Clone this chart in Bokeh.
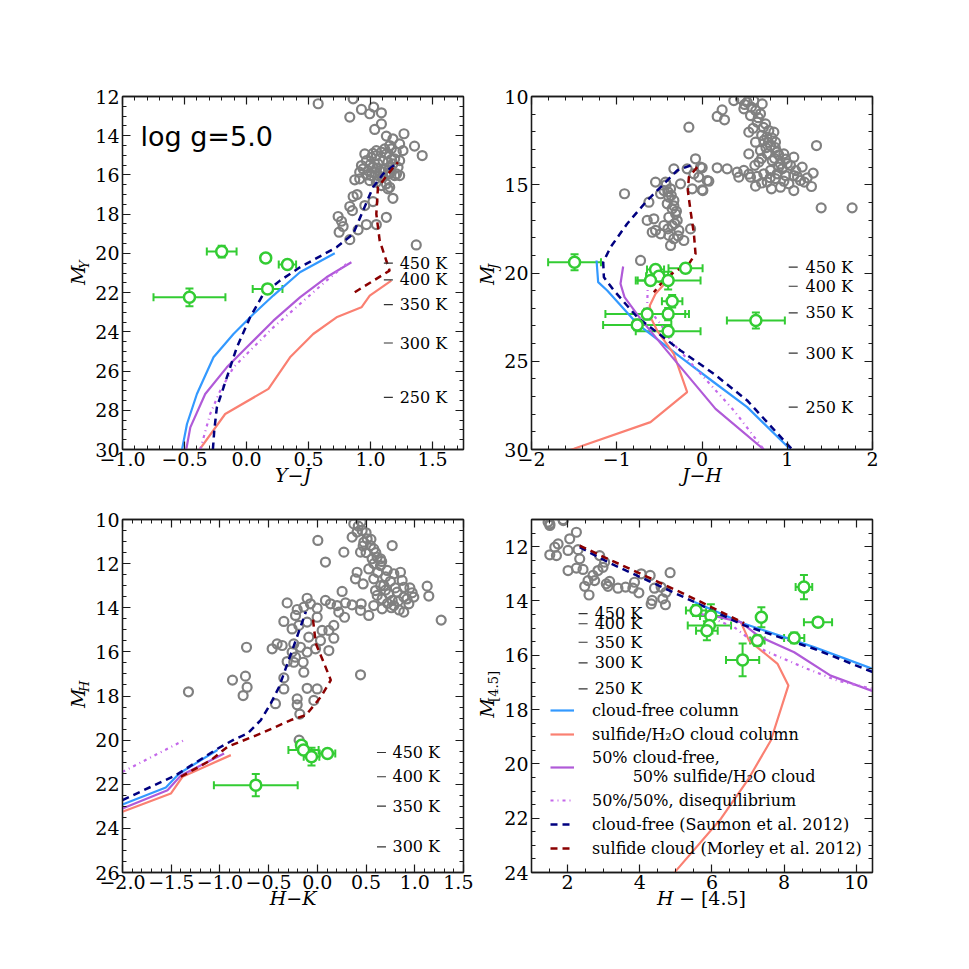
import numpy as np
from bokeh.plotting import figure
from bokeh.models import (Range1d, LinearAxis, SingleIntervalTicker, CustomJSTickFormatter,
                          Label, Title, Legend, LegendItem, Whisker, TeeHead, ColumnDataSource)
from bokeh.layouts import column, row
from bokeh.embed import file_html
from bokeh.resources import INLINE
from bokeh.core.properties import value

# ---------------- data: field brown dwarfs (grey) ----------------
field_yj = [(0.578,12.37),(0.860,12.12),(0.833,13.05),(0.927,12.66),(0.994,12.88),(1.026,12.54),(1.088,12.83),
            (1.088,13.40),(1.034,13.68),(1.128,14.02),(1.181,14.16),(1.270,13.90),(1.355,14.53),(1.417,15.01),
            (1.235,14.42),(1.262,14.76),(1.155,14.50),(1.114,14.67),(1.047,14.76),(0.954,14.93),(0.927,15.52),
            (0.873,16.25),(0.913,16.20),(1.007,16.03),(1.047,16.37),(1.141,16.71),(1.181,17.19),(1.155,16.63),
            (0.860,17.10),(0.892,17.00),(1.020,17.36),(0.954,17.56),(0.833,17.61),(0.854,17.82),(0.739,18.12),
            (0.766,18.36),(0.779,18.63),(0.747,18.92),(0.833,19.30),(0.900,18.80),(0.967,18.53),(1.047,18.53),
            (1.128,18.16),(1.369,19.57),(0.967,15.27),(1.007,15.10),(1.047,15.01),(1.088,14.84),(1.128,14.93),
            (1.168,14.67),(1.208,14.84),(1.235,15.27),(1.222,15.61),(1.181,15.44),(1.141,15.35),(1.101,15.27),
            (1.061,15.44),(1.020,15.61),(0.980,15.78),(1.074,15.78),(1.114,15.69),(1.155,15.86),(1.195,16.03),
            (1.235,16.03),(1.101,16.12),(1.061,16.03),(0.994,16.29),(0.940,15.69),(0.913,15.86),(1.128,16.46),
            (1.088,16.54),(1.034,15.86),(1.155,15.61),(1.195,15.18),(1.000,15.45),(1.050,15.65),(1.150,15.95),
            (1.100,15.85),(1.170,15.20),(1.020,14.90),(1.210,15.95),(0.970,16.00)]

field_jh = [(-0.076,13.53),(-0.017,14.00),(-0.330,14.10),(-0.174,14.10),(-0.095,14.38),(-0.545,14.85),(-0.428,14.85),
            (-0.369,15.23),(-0.252,14.95),(-0.115,15.23),(0.010,15.33),(-0.037,14.57),(-0.486,15.51),(-0.447,15.33),
            (-0.389,15.70),(-0.330,15.89),(-0.408,16.08),(-0.350,16.36),(-0.310,16.65),(-0.389,16.84),(-0.291,17.02),
            (-0.350,17.31),(-0.447,17.31),(-0.545,17.59),(-0.584,17.69),(-0.486,17.78),(-0.389,17.87),(-0.271,17.59),
            (-0.134,17.50),(-0.330,18.06),(-0.213,18.16),(-0.369,18.44),(-0.643,17.02),(-0.565,16.93),(-0.623,15.99),
            (-0.909,15.51),(-0.721,19.29),(-0.154,11.74),(0.061,14.76),
            (0.178,11.13),(0.236,10.76),(0.264,11.32),(0.373,10.23),(0.452,10.13),(0.530,10.32),(0.608,10.23),
            (0.706,10.42),(0.491,10.70),(0.569,11.08),(0.686,10.98),(0.647,11.45),(0.745,11.55),(0.549,12.02),
            (0.784,11.93),(0.843,12.02),(0.628,12.59),(0.725,12.49),(0.804,12.78),(0.862,12.59),(0.686,13.06),
            (0.764,13.25),(0.882,13.15),(0.960,13.25),(1.077,13.44),(0.549,13.25),(0.667,13.72),(0.823,13.63),
            (0.921,13.82),(1.038,13.91),(1.175,14.00),(1.304,14.34),(1.234,14.61),(1.155,14.76),(1.077,14.48),
            (0.980,14.48),(0.882,14.38),(0.804,14.19),(0.725,14.38),(0.647,14.53),(0.569,14.57),(0.491,14.19),
            (0.412,14.29),(0.432,14.57),(0.178,14.04),(0.295,14.10),(0.080,14.80),(0.002,15.29),(0.002,14.04),
            (0.628,15.08),(0.815,15.23),(0.921,15.14),(1.077,15.33),(1.284,15.10),(1.019,14.95),(0.764,14.85),
            (1.343,12.78),(1.398,16.31),(1.761,16.31),(0.60,11.80),(0.70,12.20),(0.75,12.90),(0.85,13.50),
            (0.90,14.00),(0.70,13.50),(0.80,14.60),(0.62,13.90),(0.50,10.45),(0.58,10.60),(0.63,10.80),
            (0.66,11.20),(0.72,11.75),(0.76,12.30),(0.82,12.35),(0.78,12.60),(0.86,12.90),(0.90,13.30),
            (0.98,13.55),(1.00,13.80),(0.94,14.10),(1.10,14.20),(1.12,14.55),(0.86,14.65),(0.96,14.80),
            (1.20,14.85),(0.70,14.90),(0.55,14.40),(-0.42,15.00),(-0.40,15.40),(-0.36,15.60),(-0.33,16.20),
            (-0.30,16.50),(-0.32,17.20),(-0.40,17.50),(-0.28,17.90)]

field_hk = [(0.005,10.95),(0.272,11.48),(0.083,11.93),(0.443,11.48),(0.768,11.18),(0.408,12.39),(0.391,12.69),
            (0.470,12.92),(0.254,13.26),(-0.105,13.57),(-0.310,13.78),(-0.207,14.08),(-0.139,13.97),(-0.071,13.82),
            (-0.002,14.02),(0.083,13.67),(0.135,13.82),(0.203,13.90),(0.289,13.78),(0.357,13.87),(0.450,13.82),
            (0.443,14.12),(0.528,14.35),(0.279,14.43),(0.220,14.20),(-0.344,14.62),(-0.224,14.35),(-0.190,14.80),
            (-0.259,14.96),(-0.105,14.65),(-0.002,14.43),(0.049,15.03),(0.118,15.03),(0.169,14.80),(0.169,15.38),
            (0.118,15.94),(0.032,15.49),(-0.088,15.33),(-0.173,15.79),(-0.105,16.01),(-0.019,15.86),(-0.242,15.64),
            (-0.259,16.01),(-0.224,16.24),(-0.310,16.44),(-0.242,16.47),(-0.146,16.47),(-0.139,16.92),(-0.464,15.86),
            (-0.413,15.64),(-0.361,15.71),(-0.727,15.79),(-0.738,17.10),(-0.721,17.60),(-0.762,17.98),(-0.344,17.18),
            (-0.344,17.68),(-0.430,18.35),(-0.207,18.13),(-0.207,18.40),(-0.180,18.82),(-0.105,17.65),(-0.002,17.68),
            (-0.036,18.20),(0.443,17.04),(0.579,13.90),(0.665,14.05),(0.528,12.24),(0.648,12.09),(0.717,12.31),
            (0.785,12.46),(0.853,12.39),(0.870,12.76),(0.579,12.69),(0.597,13.22),(0.682,12.99),(0.734,13.37),
            (0.819,13.29),(0.887,13.07),(0.887,13.52),(0.973,13.32),(0.939,13.82),(0.887,14.20),(0.768,13.67),
            (0.665,13.60),(0.614,13.44),(0.785,13.90),(0.990,13.52),(1.127,13.02),(1.144,13.47),(1.271,14.56),
            (0.408,10.57),(0.374,10.20),(0.460,10.50),(0.511,10.88),(0.545,11.18),(0.579,11.33),(0.614,11.71),
            (0.477,11.03),(0.562,11.78),(0.648,11.78),(0.357,10.80),(-1.323,17.81),(-0.871,17.28),(-0.187,20.00),
            (0.42,10.30),(0.45,10.10),(0.50,10.60),(0.55,10.90),(0.60,11.50),(0.66,11.90),(0.70,12.60),
            (0.75,12.80),(0.80,13.10),(0.70,13.20),(0.65,13.00),(0.62,12.40),(0.58,12.00),(0.83,13.70),
            (0.92,13.60),(0.95,13.10),(0.76,14.00),(0.72,13.80),(0.84,14.10),(0.50,11.50),(0.47,11.20)]

field_h45 = [(1.507,11.16),(1.875,11.00),(2.244,11.47),(2.059,11.71),(1.737,11.90),(1.645,12.02),(2.013,12.14),
             (1.507,12.30),(1.691,12.33),(2.290,12.11),(2.336,12.45),(2.244,12.79),(2.013,12.88),(2.428,12.84),
             (2.888,12.33),(3.027,12.57),(2.980,12.76),(2.842,12.88),(2.704,13.06),(2.750,13.25),(2.566,13.25),
             (2.474,13.46),(2.594,13.78),(3.073,13.37),(3.119,13.46),(3.165,13.28),(3.395,13.53),(3.607,13.49),
             (3.855,13.31),(3.809,13.53),(3.975,13.70),(4.040,13.00),(4.288,13.06),(4.841,12.96),(4.408,13.53),
             (4.592,13.49),(4.730,13.68),(4.344,13.98),(4.316,14.11),(4.638,13.92),(4.712,14.14),(1.46,11.10),
             (1.51,11.22),(1.88,11.04)]

# ---------------- data: Y dwarfs (green: value x, value y, xerr, yerr) ----------------
ydw_yj = [(-0.20,19.91,0.12,0.30),(0.155,20.23,0.0,0.0),(0.33,20.57,0.07,0.20),(0.17,21.81,0.12,0.20),(-0.46,22.24,0.29,0.45)]
ydw_jh = [(-1.495,19.39,0.31,0.45),(-0.193,19.73,0.20,0.25),(-0.545,19.80,0.10,0.20),(-0.506,20.18,0.15,0.20),
          (-0.604,20.43,0.15,0.25),(-0.397,20.43,0.38,0.50),(-0.350,21.60,0.12,0.35),(-0.643,22.33,0.49,0.30),
          (-0.397,22.33,0.20,0.35),(-0.760,22.94,0.40,0.30),(-0.397,23.30,0.38,0.30),(0.632,22.69,0.34,0.45)]
ydw_hk = [(-0.163,20.23,0.05,0.15),(-0.142,20.45,0.155,0.15),(-0.060,20.75,0.08,0.40),(0.104,20.61,0.08,0.15),
          (-0.632,22.04,0.43,0.50)]
ydw_h45 = [(5.56,14.35,0.28,0.20),(5.97,14.55,0.30,0.43),(5.93,14.90,0.60,0.30),(5.86,15.10,0.30,0.35),
           (6.85,16.17,0.46,0.60),(7.26,15.46,0.20,0.20),(7.37,14.60,0.10,0.37),(8.28,15.36,0.28,0.20),
           (8.94,14.78,0.39,0.15),(8.55,13.49,0.23,0.45)]

# ---------------- data: model tracks ----------------
cf_yj_x = [-0.520,-0.480,-0.400,-0.266,-0.105,0.056,0.216,0.431,0.712]
cf_yj_y = [30.0,28.70,27.17,25.30,24.11,23.09,22.15,20.96,19.99]
cl_yj_x = [-0.378,-0.172,0.177,0.351,0.538,0.726,0.927,0.994,1.168]
cl_yj_y = [30.0,28.19,26.91,25.30,24.11,23.26,22.75,22.15,21.39]
mix_yj_x = [-0.486,-0.453,-0.333,-0.159,0.002,0.217,0.431,0.645,0.846]
mix_yj_y = [30.0,28.87,27.17,25.81,24.79,23.43,22.24,21.22,20.45]
dis_yj_x = [-0.373,-0.293,-0.212,-0.105,0.029,0.217,0.431,0.645,0.806]
dis_yj_y = [30.0,28.19,27.0,25.81,24.96,23.77,22.58,21.39,20.54]
sau_yj_x = [-0.271,-0.260,-0.239,-0.185,-0.078,0.029,0.136,0.270,0.431,0.726,0.860,0.940,1.020,1.101,1.221]
sau_yj_y = [30.0,29.04,27.85,26.83,24.79,23.26,22.07,21.39,20.71,19.69,19.01,17.82,16.63,15.95,15.35]
mor_yj_x = [0.873,1.154,1.074,1.047,1.060,1.141,1.221]
mor_yj_y = [21.98,20.88,19.35,17.99,16.63,15.95,15.35]

cf_jh_x = [-1.237,-1.218,-1.112,-0.760,-0.252,0.139,0.530,1.038]
cf_jh_y = [19.29,20.52,20.99,22.88,24.77,26.19,27.60,30.0]
cl_jh_x = [-0.370,-0.545,-0.612,-0.604,-0.526,-0.331,-0.174,-0.604,-1.503,-1.60]
cl_jh_y = [20.24,21.18,21.84,22.50,23.26,24.58,26.75,28.45,29.96,30.12]
mix_jh_x = [-0.925,-0.956,-0.909,-0.721,-0.448,0.159,0.726]
mix_jh_y = [19.63,20.61,21.37,22.60,24.20,27.70,30.0]
dis_jh_x = [-0.573,-0.636,-0.643,-0.487,-0.370,0.374,0.726]
dis_jh_y = [19.95,20.61,21.94,22.88,23.82,27.79,30.0]
sau_jh_x = [-0.135,-0.291,-0.447,-0.643,-0.878,-1.073,-1.159,-1.151,-1.034,-0.760,-0.252,0.139,0.530,1.058]
sau_jh_y = [13.91,14.19,14.95,15.89,17.21,18.54,19.39,20.24,20.99,22.50,24.39,25.71,27.22,30.0]
mor_jh_x = [-0.056,-0.154,-0.166,-0.135,-0.095,-0.076,-0.154,-0.330,-0.467,-0.565]
mor_jh_y = [14.0,14.57,15.33,16.46,17.78,18.91,19.48,19.95,20.52,21.09]

cf_hk_x = [-2.0,-1.555,-1.418,-1.025]
cf_hk_y = [22.92,22.15,21.51,20.45]
cl_hk_x = [-2.0,-1.504,-1.384,-0.888]
cl_hk_y = [23.25,22.42,21.66,20.68]
mix_hk_x = [-2.0,-1.538,-1.401,-0.957]
mix_hk_y = [23.10,22.27,21.60,20.61]
dis_hk_x = [-2.0,-1.367]
dis_hk_y = [21.44,20.0]
sau_hk_x = [-2.0,-1.453,-1.025,-0.854,-0.717,-0.580,-0.478,-0.392,-0.307,-0.221,-0.118]
sau_hk_y = [22.72,21.59,20.39,19.97,19.70,19.09,18.34,17.58,16.53,15.47,14.18]
mor_hk_x = [-1.401,-1.093,-0.922,-0.580,-0.272,-0.118,0.036,0.138,0.070,-0.016,-0.050]
mor_hk_y = [21.66,20.91,20.30,19.70,19.09,18.87,18.04,17.28,16.53,15.62,14.34]

cf_h45_x = [5.513,6.895,8.829,10.459]
cf_h45_y = [14.04,14.84,15.70,16.50]
cl_h45_x = [6.80,7.03,7.36,7.82,8.12,7.632,6.987,6.250,5.007,4.95]
cl_h45_y = [14.78,15.46,15.82,16.32,17.11,19.14,20.61,22.02,23.93,24.05]
mix_h45_x = [5.79,6.80,7.30,8.28,9.29,10.459]
mix_h45_y = [14.47,14.78,15.30,15.89,16.75,17.32]
dis_h45_x = [5.70,6.62,7.45,8.64,9.47,10.459]
dis_h45_y = [14.47,14.97,15.82,16.50,16.93,17.24]
sau_h45_x = [2.335,3.118,4.224,5.513,6.895,8.829,10.459]
sau_h45_y = [12.02,12.57,13.25,14.04,14.90,15.76,16.62]
mor_h45_x = [2.335,3.118,4.224,5.513,6.895]
mor_h45_y = [11.96,12.45,13.12,13.92,14.82]

# temperature marks (Teff labels)
teff_labels5 = ["450 K", "400 K", "350 K", "300 K", "250 K"]
teff_labels4 = ["450 K", "400 K", "350 K", "300 K"]
teff_yj = [20.50, 21.35, 22.61, 24.57, 27.34]
teff_jh = [19.67, 20.75, 22.26, 24.54, 27.60]
teff_hk = [20.56, 21.66, 22.99, 24.84]
teff_h45 = [14.47, 14.84, 15.52, 16.28, 17.24]

legend_labels = ["cloud-free column", "sulfide/H\u2082O cloud column",
                 "50% cloud-free,\n" + "\u00a0" * 8 + "50% sulfide/H\u2082O cloud",
                 "50%/50%, disequilibrium", "cloud-free (Saumon et al. 2012)",
                 "sulfide cloud (Morley et al. 2012)"]

# ---------------- styling ----------------
SERIF = "DejaVu Serif"
SANS = "DejaVu Sans"
C_CF, C_CL, C_MIX, C_DIS = "#3399ff", "#fa8072", "#b05ad8", "#c468ea"
C_SAU, C_MOR = "#000080", "#8b0000"
GRAY, GREEN = "#808080", "#33cc33"
AX = "#1a1a1a"
FW, FH = 341, 353
EMPTY_FMT = "return '';"


def style_axis(ax, ticker, fmt, labels, standoff):
    ax.ticker = ticker
    ax.formatter = fmt
    ax.major_tick_in = 8
    ax.major_tick_out = 0
    ax.minor_tick_in = 4
    ax.minor_tick_out = 0
    ax.axis_line_color = AX
    ax.axis_line_width = 1.3
    ax.major_tick_line_color = AX
    ax.major_tick_line_width = 1.2
    ax.minor_tick_line_color = AX
    ax.minor_tick_line_width = 1.0
    ax.major_label_text_font = SERIF
    ax.major_label_text_color = "black"
    if labels:
        ax.major_label_text_font_size = "19px"
        ax.major_label_standoff = standoff
    else:
        ax.major_label_text_font_size = "1px"
        ax.major_label_standoff = 0
    ax.axis_label = None


def make_panel(xr, yr, xint, xmin, yint, ymin, xdec, ydec, w, h, bl, bt):
    p = figure(width=w, height=h, x_range=Range1d(*xr), y_range=Range1d(*yr),
               output_backend="svg", toolbar_location=None,
               min_border_left=bl, min_border_right=10, min_border_top=bt, min_border_bottom=60)
    p.grid.visible = False
    p.outline_line_color = AX
    p.outline_line_width = 1.3
    fx = CustomJSTickFormatter(code=f"return tick.toFixed({xdec}).replace('-', '\\u2212');")
    fy = CustomJSTickFormatter(code=f"return tick.toFixed({ydec}).replace('-', '\\u2212');")
    style_axis(p.xaxis[0], SingleIntervalTicker(interval=xint, num_minor_ticks=xmin), fx, True, 2)
    style_axis(p.yaxis[0], SingleIntervalTicker(interval=yint, num_minor_ticks=ymin), fy, True, 3)
    top = LinearAxis()
    style_axis(top, SingleIntervalTicker(interval=xint, num_minor_ticks=xmin),
               CustomJSTickFormatter(code=EMPTY_FMT), False, 0)
    p.add_layout(top, "above")
    right = LinearAxis()
    style_axis(right, SingleIntervalTicker(interval=yint, num_minor_ticks=ymin),
               CustomJSTickFormatter(code=EMPTY_FMT), False, 0)
    p.add_layout(right, "right")
    return p


def add_labels(p, xlabel_parts, sub, sub_italic=True, sub_w=8.5):
    # y-label: italic M with a subscript, as two titles in the left border
    total = 15.5 + sub_w
    y0 = FH / 2 - total / 2
    p.add_layout(Title(text=sub, align="left", offset=y0 + 16, vertical_align="bottom", standoff=1,
                       text_font=SERIF, text_font_style="italic" if sub_italic else "normal",
                       text_font_size="13px", text_color="black"), "left")
    p.add_layout(Title(text="M", align="left", offset=y0, vertical_align="bottom", standoff=-28,
                       text_font=SERIF, text_font_style="italic", text_font_size="19px",
                       text_color="black"), "left")
    # x-label
    if len(xlabel_parts) == 1:
        p.add_layout(Title(text=xlabel_parts[0], align="center", vertical_align="top", standoff=-9,
                           text_font=SERIF, text_font_style="italic", text_font_size="19px",
                           text_color="black"), "below")
    else:
        x0 = FW / 2 - 45
        p.add_layout(Title(text=xlabel_parts[0], align="left", offset=x0, vertical_align="top", standoff=-9,
                           text_font=SERIF, text_font_style="italic", text_font_size="19px",
                           text_color="black"), "below")
        p.add_layout(Title(text=xlabel_parts[1], align="left", offset=x0 + 22, vertical_align="top",
                           standoff=-39, text_font=SERIF, text_font_style="normal", text_font_size="19px",
                           text_color="black"), "below")


def add_field(p, pts):
    xs = [a for a, b in pts]
    ys = [b for a, b in pts]
    p.scatter(xs, ys, marker="circle", size=9, fill_color=None, line_color=GRAY, line_width=2.2)


def add_tracks(p, tracks):
    rs = []
    for (xs, ys, col, dash, lw) in tracks:
        rs.append(p.line(xs, ys, line_color=col, line_width=lw, line_dash=dash))
    return rs


def add_ydwarfs(p, pts):
    xs = [a[0] for a in pts]
    ys = [a[1] for a in pts]
    ex = [a for a in pts if a[2] > 0]
    ey = [a for a in pts if a[3] > 0]
    srcx = ColumnDataSource(dict(y=[a[1] for a in ex], lo=[a[0] - a[2] for a in ex], hi=[a[0] + a[2] for a in ex]))
    srcy = ColumnDataSource(dict(x=[a[0] for a in ey], lo=[a[1] - a[3] for a in ey], hi=[a[1] + a[3] for a in ey]))
    p.add_layout(Whisker(source=srcx, base="y", lower="lo", upper="hi", dimension="width",
                         line_color=GREEN, line_width=2,
                         upper_head=TeeHead(size=8, line_color=GREEN, line_width=2),
                         lower_head=TeeHead(size=8, line_color=GREEN, line_width=2)))
    p.add_layout(Whisker(source=srcy, base="x", lower="lo", upper="hi", dimension="height",
                         line_color=GREEN, line_width=2,
                         upper_head=TeeHead(size=8, line_color=GREEN, line_width=2),
                         lower_head=TeeHead(size=8, line_color=GREEN, line_width=2)))
    p.scatter(xs, ys, marker="circle", size=11, fill_color="white", line_color=GREEN, line_width=2.5)


def add_teff(p, dash_x, text_x, ys, labels):
    p.scatter([dash_x] * len(ys), ys, marker="dash", size=9, line_color="#333333", line_width=1.2)
    p.text([text_x] * len(ys), ys, text=labels, text_font=value(SERIF), text_font_size="16px",
           text_baseline="middle", text_align="left", text_color="black")


def tracks_for(cfx, cfy, clx, cly, mxx, mxy, dsx, dsy, sax, say, mox, moy):
    return [(cfx, cfy, C_CF, "solid", 2.2), (clx, cly, C_CL, "solid", 2.2),
            (mxx, mxy, C_MIX, "solid", 2.2), (dsx, dsy, C_DIS, "3 4 1 4", 2.2),
            (sax, say, C_SAU, "7 5", 2.5), (mox, moy, C_MOR, "7 5", 2.5)]


# ---------------- panel 1: Y-J ----------------
p1 = make_panel((-1.0, 1.75), (30, 12), 0.5, 5, 2, 4, 1, 0, 473, 509, 122, 96)
add_field(p1, field_yj)
add_tracks(p1, tracks_for(cf_yj_x, cf_yj_y, cl_yj_x, cl_yj_y, mix_yj_x, mix_yj_y, dis_yj_x, dis_yj_y,
                          sau_yj_x, sau_yj_y, mor_yj_x, mor_yj_y))
add_ydwarfs(p1, ydw_yj)
add_teff(p1, 1.144, 1.235, teff_yj, teff_labels5)
p1.add_layout(Label(x=-0.855, y=14.04, text="log g=5.0", text_font=SANS, text_font_size="27px",
                    text_align="left", text_baseline="alphabetic", text_color="black"))
add_labels(p1, ["Y\u2212J"], "Y")

# ---------------- panel 2: J-H ----------------
p2 = make_panel((-2.0, 2.0), (30, 10), 1, 5, 5, 5, 0, 0, 409, 509, 58, 96)
add_field(p2, field_jh)
add_tracks(p2, tracks_for(cf_jh_x, cf_jh_y, cl_jh_x, cl_jh_y, mix_jh_x, mix_jh_y, dis_jh_x, dis_jh_y,
                          sau_jh_x, sau_jh_y, mor_jh_x, mor_jh_y))
add_ydwarfs(p2, ydw_jh)
add_teff(p2, 1.070, 1.214, teff_jh, teff_labels5)
add_labels(p2, ["J\u2212H"], "J")

# ---------------- panel 3: H-K ----------------
p3 = make_panel((-2.0, 1.5), (26, 10), 0.5, 5, 2, 4, 1, 0, 473, 423, 122, 10)
add_field(p3, field_hk)
add_tracks(p3, tracks_for(cf_hk_x, cf_hk_y, cl_hk_x, cl_hk_y, mix_hk_x, mix_hk_y, dis_hk_x, dis_hk_y,
                          sau_hk_x, sau_hk_y, mor_hk_x, mor_hk_y))
add_ydwarfs(p3, ydw_hk)
add_teff(p3, 0.658, 0.771, teff_hk, teff_labels4)
add_labels(p3, ["H\u2212K"], "H")

# ---------------- panel 4: H-[4.5] ----------------
p4 = make_panel((1.0, 10.45), (24, 11), 2, 4, 2, 4, 0, 0, 409, 423, 58, 10)
add_field(p4, field_h45)
r4 = add_tracks(p4, tracks_for(cf_h45_x, cf_h45_y, cl_h45_x, cl_h45_y, mix_h45_x, mix_h45_y,
                               dis_h45_x, dis_h45_y, sau_h45_x, sau_h45_y, mor_h45_x, mor_h45_y))
add_ydwarfs(p4, ydw_h45)
add_teff(p4, 2.43, 2.75, teff_h45, teff_labels5)
add_labels(p4, ["H", "\u2212 [4.5]"], "[4.5]", sub_italic=False, sub_w=28)

legend = Legend(items=[LegendItem(label=lab, renderers=[r]) for lab, r in zip(legend_labels, r4)],
                location=(19, 14), orientation="vertical", padding=0, margin=0, spacing=4,
                glyph_width=24, glyph_height=20, label_height=20, label_standoff=18,
                label_text_font=SERIF, label_text_font_size="16px", label_text_color="black",
                border_line_alpha=0, background_fill_alpha=0)
p4.add_layout(legend)

layout = column(row(p1, p2), row(p3, p4))
open("out.html", "w").write(file_html(layout, INLINE, "colour-magnitude diagrams"))
